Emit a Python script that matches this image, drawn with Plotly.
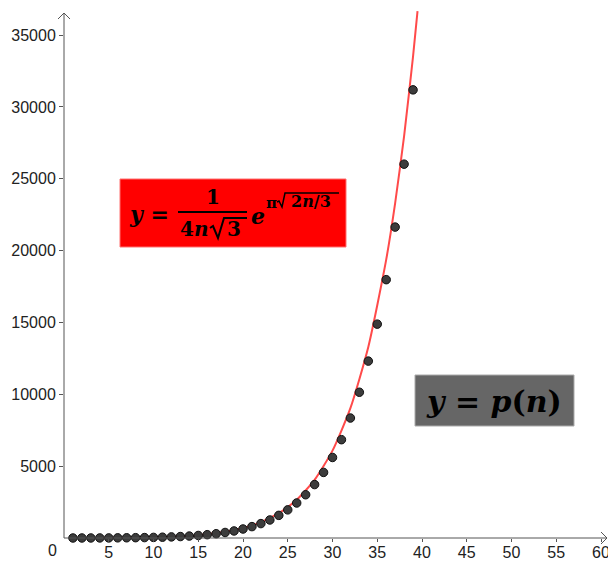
import plotly.graph_objects as go

# partition numbers p(n)
n_vals = list(range(1, 40))
p_vals = [1, 2, 3, 5, 7, 11, 15, 22, 30, 42, 56, 77, 101, 135, 176, 231, 297, 385,
          490, 627, 792, 1002, 1255, 1575, 1958, 2436, 3010, 3718, 4565, 5604, 6842,
          8349, 10143, 12310, 14883, 17977, 21637, 26015, 31185]

# Hardy-Ramanujan approximation curve (values read at sample n)
curve_n = [1, 2, 5, 10, 12, 15, 18, 20, 22, 24, 26, 28, 30, 32, 34, 36, 37, 38, 39, 39.5]
curve_y = [1.88, 2.72, 8.94, 48.1, 86.9, 198.6, 427, 692, 1102, 1725, 2659, 4046, 6080,
           9037, 13295, 19370, 23306, 27973, 33519, 36663]

x_ticks = [5, 10, 15, 20, 25, 30, 35, 40, 45, 50, 55, 60]
y_ticks = [5000, 10000, 15000, 20000, 25000, 30000, 35000]

W, H = 608, 561
L, R, T, B = 64, 0, 0, 23
PW, PH = W - L - R, H - T - B


def px(x):
    return (x - L) / PW


def py(y):
    return (H - B - y) / PH


def path(points):
    return "M " + " L ".join(f"{px(a)} {py(b)}" for a, b in points)


fig = go.Figure()
fig.add_trace(go.Scatter(x=curve_n, y=curve_y, mode="lines",
                         line=dict(color="#ff4a4a", width=2, shape="spline", smoothing=0.6),
                         hoverinfo="skip"))
fig.add_trace(go.Scatter(x=n_vals, y=p_vals, mode="markers", cliponaxis=False,
                         marker=dict(size=8.5, color="#3c3c3c", line=dict(color="#111", width=1))))

axis_col = "#555555"
shapes = []
# axes with open arrowheads
shapes.append(dict(type="line", xref="paper", yref="paper", x0=px(64), x1=px(64), y0=py(538), y1=py(13),
                   line=dict(color=axis_col, width=1)))
shapes.append(dict(type="path", xref="paper", yref="paper", path=path([(58, 19), (64, 13), (70, 19)]),
                   line=dict(color=axis_col, width=1)))
shapes.append(dict(type="line", xref="paper", yref="paper", x0=px(64), x1=px(607), y0=py(538), y1=py(538),
                   line=dict(color=axis_col, width=1)))
shapes.append(dict(type="path", xref="paper", yref="paper", path=path([(601, 532), (607, 538), (601, 544)]),
                   line=dict(color=axis_col, width=1)))
# formula boxes
shapes.append(dict(type="rect", xref="paper", yref="paper", x0=px(120), x1=px(346), y0=py(247), y1=py(179),
                   fillcolor="#ff0000", line=dict(color="#ff7070", width=1), layer="above"))
shapes.append(dict(type="rect", xref="paper", yref="paper", x0=px(415), x1=px(574), y0=py(426), y1=py(375),
                   fillcolor="#666666", line=dict(color="#aaaaaa", width=1), layer="above"))
# fraction bar and radicals
shapes.append(dict(type="line", xref="paper", yref="paper", x0=px(178), x1=px(247), y0=py(212), y1=py(212),
                   line=dict(color="black", width=2), layer="above"))
shapes.append(dict(type="path", xref="paper", yref="paper",
                   path=path([(210, 228), (213, 226), (218, 238), (224, 218), (247, 218)]),
                   line=dict(color="black", width=2), layer="above"))
shapes.append(dict(type="path", xref="paper", yref="paper",
                   path=path([(277, 202), (279, 201), (282, 207), (285, 193), (339, 193)]),
                   line=dict(color="black", width=1.5), layer="above"))

serif = "DejaVu Serif"
ann = []


def add_text(text, x, y, size):
    ann.append(dict(text=text, xref="paper", yref="paper", x=px(x), y=py(y), showarrow=False,
                    xanchor="center", yanchor="middle", font=dict(family=serif, size=size, color="black")))


add_text("<b><i>y</i> =</b>", 149, 214, 22)
add_text("<b>1</b>", 213, 197, 20)
add_text("<b>4<i>n</i></b>", 194, 229, 20)
add_text("<b>3</b>", 234, 229, 20)
add_text("<b><i>e</i></b>", 258, 216, 22)
add_text("<b>π</b>", 271, 203, 15)
add_text("<b>2<i>n</i>/3</b>", 311, 201, 16)
add_text("<b><i>y</i> = <i>p</i>(<i>n</i>)</b>", 494, 401, 30)
ann.append(dict(text="0", xref="paper", yref="paper", x=px(52), y=py(550), showarrow=False,
                xanchor="center", yanchor="middle",
                font=dict(family="Liberation Sans", size=16, color="#222")))

fig.update_layout(
    width=W, height=H, margin=dict(l=L, r=R, t=T, b=B, pad=0),
    paper_bgcolor="white", plot_bgcolor="white", showlegend=False,
    shapes=shapes, annotations=ann,
    font=dict(family="Liberation Sans", size=16, color="#222"),
    xaxis=dict(range=[0, PW / 8.95], tickvals=x_ticks, ticks="outside", ticklen=3, tickcolor=axis_col,
               ticklabelstandoff=-3, ticklabeloverflow="allow",
               showgrid=False, zeroline=False, showline=False, fixedrange=True, automargin=False),
    yaxis=dict(range=[0, PH / 0.01437], tickvals=y_ticks, tickformat="d", ticks="outside", ticklen=4,
               tickcolor=axis_col, showgrid=False, zeroline=False, showline=False, fixedrange=True,
               automargin=False),
)

fig.write_html("out.html", config={"displayModeBar": False},
               post_script="document.body.style.margin='0';document.body.style.overflow='hidden';")
